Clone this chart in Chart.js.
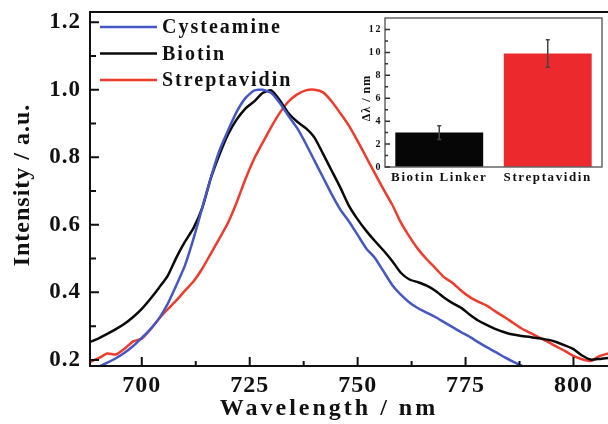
<!DOCTYPE html>
<html>
<head>
<meta charset="utf-8">
<script src="https://cdn.jsdelivr.net/npm/chart.js@4.4.0/dist/chart.umd.min.js"></script>
<style>
  html, body { margin: 0; padding: 0; background: #fff; }
  #wrap { position: relative; width: 608px; height: 424px; overflow: hidden; }
  #main { position: absolute; left: 0; top: 0; }
  #inset { position: absolute; left: 358px; top: 12px; }
</style>
</head>
<body>
<div id="wrap">
  <canvas id="main" width="608" height="424"></canvas>
  <canvas id="inset" width="248" height="180"></canvas>
</div>
<script>
// Main spectra (normalised intensity vs wavelength, nm)
const WAVELENGTH = [688, 690, 692, 694, 696, 698, 700, 702, 704, 706, 708, 710, 712, 714, 716, 718, 720, 722, 724, 726,
  728, 730, 732, 734, 736, 738, 740, 742, 744, 746, 748, 750, 752, 754, 756, 758, 760, 762, 764, 766,
  768, 770, 772, 774, 776, 778, 780, 782, 784, 786, 788, 790, 792, 794, 796, 798, 800, 802, 804, 806, 808];

const CYSTEAMINE = [0.170, 0.180, 0.192, 0.205, 0.221, 0.241, 0.265, 0.291, 0.323, 0.366, 0.421, 0.480, 0.560, 0.650, 0.740, 0.820, 0.880, 0.935, 0.975, 0.997,
  1.000, 0.990, 0.960, 0.922, 0.886, 0.840, 0.790, 0.740, 0.690, 0.645, 0.610, 0.570, 0.530, 0.502, 0.462, 0.422, 0.393, 0.370, 0.353, 0.340,
  0.327, 0.312, 0.297, 0.282, 0.268, 0.252, 0.237, 0.223, 0.208, 0.195, 0.183, 0.174, 0.166, null, null, null, null, null, null, null, null];

const BIOTIN = [0.253, 0.264, 0.277, 0.291, 0.307, 0.327, 0.351, 0.381, 0.414, 0.449, 0.503, 0.550, 0.591, 0.650, 0.738, 0.808, 0.868, 0.912, 0.944, 0.965,
  0.990, 0.998, 0.968, 0.930, 0.905, 0.886, 0.858, 0.810, 0.760, 0.710, 0.656, 0.616, 0.582, 0.552, 0.524, 0.493, 0.458, 0.438, 0.430, 0.420,
  0.405, 0.385, 0.368, 0.354, 0.334, 0.316, 0.303, 0.291, 0.282, 0.275, 0.271, 0.268, 0.264, 0.260, 0.253, 0.243, 0.232, 0.213, 0.201, 0.203, 0.206];

const STREPTAVIDIN = [0.194, 0.205, 0.219, 0.216, 0.233, 0.255, 0.263, 0.290, 0.322, 0.350, 0.376, 0.405, 0.433, 0.470, 0.515, 0.560, 0.607, 0.667, 0.735, 0.795,
  0.843, 0.890, 0.932, 0.965, 0.986, 0.998, 1.000, 0.992, 0.965, 0.930, 0.893, 0.848, 0.800, 0.752, 0.705, 0.660, 0.607, 0.565, 0.528, 0.498,
  0.472, 0.445, 0.428, 0.405, 0.386, 0.372, 0.360, 0.343, 0.327, 0.310, 0.293, 0.280, 0.267, 0.254, 0.240, 0.227, 0.212, 0.202, 0.197, 0.211, 0.219];

const X_TICKS = [700, 725, 750, 775, 800];
const X_MINOR = [712.5, 737.5, 762.5, 787.5];
const Y_TICKS = [0.2, 0.4, 0.6, 0.8, 1.0, 1.2];
const Y_MINOR = [0.3, 0.5, 0.7, 0.9, 1.1];

// Inset: wavelength shift
const BAR_LABELS = ['Biotin Linker', 'Streptavidin'];
const SHIFT = [3.0, 9.9];
const SHIFT_ERR = [0.6, 1.2];
const INSET_TICKS = [0, 2, 4, 6, 8, 10, 12];
const INSET_MINOR = [1, 3, 5, 7, 9, 11];

const SERIF = '"Liberation Serif", "Times New Roman", serif';

function toPoints(values) {
  return WAVELENGTH.map((w, i) => ({ x: w, y: values[i] }));
}

function noPad(s) {
  s.paddingTop = 0;
  s.paddingBottom = 0;
  s.paddingLeft = 0;
  s.paddingRight = 0;
}

const mainDecor = {
  id: 'mainDecor',
  beforeDraw(chart) {
    chart.ctx.letterSpacing = '1px';
  },
  afterDraw(chart) {
    const { ctx, chartArea: a, scales: { x, y } } = chart;
    ctx.save();
    ctx.strokeStyle = '#111';
    ctx.lineWidth = 2;
    ctx.beginPath();
    ctx.moveTo(a.right, a.top);
    ctx.lineTo(a.left, a.top);
    ctx.lineTo(a.left, a.bottom);
    ctx.lineTo(a.right, a.bottom);
    X_TICKS.forEach(v => { const p = x.getPixelForValue(v); ctx.moveTo(p, a.bottom); ctx.lineTo(p, a.bottom - 9); });
    X_MINOR.forEach(v => { const p = x.getPixelForValue(v); ctx.moveTo(p, a.bottom); ctx.lineTo(p, a.bottom - 5); });
    Y_TICKS.forEach(v => { const p = y.getPixelForValue(v); ctx.moveTo(a.left, p); ctx.lineTo(a.left + 9, p); });
    Y_MINOR.forEach(v => { const p = y.getPixelForValue(v); ctx.moveTo(a.left, p); ctx.lineTo(a.left + 6, p); });
    ctx.stroke();

    // legend
    ctx.font = 'bold 20px ' + SERIF;
    ctx.letterSpacing = '2px';
    ctx.textBaseline = 'middle';
    ctx.textAlign = 'left';
    ctx.fillStyle = '#111';
    chart.data.datasets.forEach((ds, i) => {
      const ly = 27 + i * 26.5;
      ctx.strokeStyle = ds.borderColor;
      ctx.lineWidth = 2.5;
      ctx.beginPath();
      ctx.moveTo(100, ly);
      ctx.lineTo(157, ly);
      ctx.stroke();
      ctx.fillText(ds.label, 162, ly + 1);
    });

    // axis titles
    ctx.font = 'bold 24px ' + SERIF;
    ctx.letterSpacing = '3px';
    ctx.textAlign = 'center';
    ctx.fillText('Wavelength / nm', 329, 409);

    ctx.translate(23, 185);
    ctx.rotate(-Math.PI / 2);
    ctx.font = 'bold 24px ' + SERIF;
    ctx.letterSpacing = '1px';
    ctx.fillText('Intensity / a.u.', 0, 0);
    ctx.restore();
  }
};

new Chart(document.getElementById('main'), {
  type: 'line',
  data: {
    datasets: [
      { label: 'Cysteamine', data: toPoints(CYSTEAMINE), borderColor: '#4557c4' },
      { label: 'Biotin', data: toPoints(BIOTIN), borderColor: '#0a0a0a' },
      { label: 'Streptavidin', data: toPoints(STREPTAVIDIN), borderColor: '#ef3b2c' }
    ]
  },
  options: {
    responsive: false,
    animation: false,
    layout: { padding: { top: 12, right: 0, left: 0, bottom: 0 } },
    elements: {
      line: { borderWidth: 2.5, tension: 0.2, fill: false },
      point: { radius: 0 }
    },
    plugins: { legend: { display: false }, tooltip: { enabled: false } },
    scales: {
      x: {
        type: 'linear',
        min: 688,
        max: 808,
        grid: { display: false, drawTicks: false },
        border: { display: false },
        afterBuildTicks: s => { s.ticks = X_TICKS.map(v => ({ value: v })); },
        afterFit: s => { s.height = 58; noPad(s); },
        ticks: {
          color: '#111',
          font: { family: SERIF, weight: 'bold', size: 24 },
          padding: 5,
          maxRotation: 0,
          autoSkip: false,
          callback: v => String(v)
        }
      },
      y: {
        min: 0.182,
        max: 1.23,
        grid: { display: false, drawTicks: false },
        border: { display: false },
        afterBuildTicks: s => { s.ticks = Y_TICKS.map(v => ({ value: v })); },
        afterFit: s => { s.width = 90; noPad(s); },
        ticks: {
          color: '#111',
          font: { family: SERIF, weight: 'bold', size: 23 },
          padding: 9,
          callback: v => v.toFixed(1)
        }
      }
    }
  },
  plugins: [mainDecor]
});

const insetDecor = {
  id: 'insetDecor',
  beforeDraw(chart) {
    chart.ctx.letterSpacing = '1.6px';
  },
  afterDraw(chart) {
    const { ctx, chartArea: a, scales: { x, y } } = chart;
    ctx.save();
    ctx.strokeStyle = '#666';
    ctx.lineWidth = 1.5;
    ctx.strokeRect(a.left, a.top, a.right - a.left, a.bottom - a.top);
    ctx.strokeStyle = '#333';
    ctx.beginPath();
    INSET_TICKS.forEach(v => { const p = y.getPixelForValue(v); ctx.moveTo(a.left, p); ctx.lineTo(a.left + 5, p); });
    INSET_MINOR.forEach(v => { const p = y.getPixelForValue(v); ctx.moveTo(a.left, p); ctx.lineTo(a.left + 3, p); });
    ctx.stroke();

    // error bars
    ctx.strokeStyle = '#444';
    ctx.lineWidth = 1.5;
    ctx.beginPath();
    SHIFT.forEach((v, i) => {
      const px = x.getPixelForValue(i);
      const top = y.getPixelForValue(v + SHIFT_ERR[i]);
      const bot = y.getPixelForValue(v - SHIFT_ERR[i]);
      ctx.moveTo(px, top); ctx.lineTo(px, bot);
      ctx.moveTo(px - 2, top); ctx.lineTo(px + 2, top);
      ctx.moveTo(px - 2, bot); ctx.lineTo(px + 2, bot);
    });
    ctx.stroke();

    // y title
    ctx.translate(9, 86);
    ctx.rotate(-Math.PI / 2);
    ctx.font = 'bold 12px ' + SERIF;
    ctx.letterSpacing = '1px';
    ctx.textAlign = 'center';
    ctx.textBaseline = 'middle';
    ctx.fillStyle = '#111';
    ctx.fillText('Δλ / nm', 0, 0);
    ctx.restore();
  }
};

new Chart(document.getElementById('inset'), {
  type: 'bar',
  data: {
    labels: BAR_LABELS,
    datasets: [{
      data: SHIFT,
      backgroundColor: ['#060606', '#ec2a2e'],
      borderWidth: 0,
      barPercentage: 0.81,
      categoryPercentage: 1
    }]
  },
  options: {
    responsive: false,
    animation: false,
    layout: { padding: { top: 6, right: 4, left: 0, bottom: 0 } },
    plugins: { legend: { display: false }, tooltip: { enabled: false } },
    scales: {
      x: {
        grid: { display: false, drawTicks: false },
        border: { display: false },
        afterFit: s => { s.height = 25; noPad(s); },
        ticks: {
          color: '#111',
          font: { family: SERIF, weight: 'bold', size: 13 },
          padding: 3,
          maxRotation: 0,
          autoSkip: false
        }
      },
      y: {
        min: 0,
        max: 13,
        grid: { display: false, drawTicks: false },
        border: { display: false },
        afterBuildTicks: s => { s.ticks = INSET_TICKS.map(v => ({ value: v })); },
        afterFit: s => { s.width = 27; noPad(s); },
        ticks: {
          color: '#111',
          font: { family: SERIF, weight: 'bold', size: 10 },
          padding: 3
        }
      }
    }
  },
  plugins: [insetDecor]
});
</script>
</body>
</html>
